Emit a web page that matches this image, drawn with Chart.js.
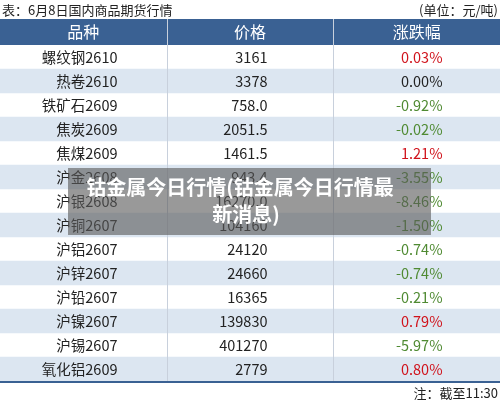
<!DOCTYPE html>
<html><head><meta charset="utf-8">
<script src="https://cdn.jsdelivr.net/npm/chart.js@4"></script>
<style>html,body{margin:0;padding:0;background:#fff}#c{display:block}</style>
</head><body>
<div style="width:500px;height:403px"><canvas id="c"></canvas></div>
<script>
const names = ['螺纹钢2610','热卷2610','铁矿石2609','焦炭2609','焦煤2609','沪金2608','沪银2608','沪铜2607','沪铝2607','沪锌2607','沪铅2607','沪镍2607','沪锡2607','氧化铝2609'];
const prices = ['3161','3378','758.0','2051.5','1461.5','943.4','16270.0','104160','24120','24660','16365','139830','401270','2779'];
const changes = [0.03, 0.00, -0.92, -0.02, 1.21, -3.55, -8.46, -1.50, -0.74, -0.74, -0.21, 0.79, -5.97, 0.80];
const headers = ['品种','价格','涨跌幅'];
const FONT = '"Noto Sans CJK SC", "Noto Sans", sans-serif';

const tablePlugin = {
  id: 'table',
  beforeDatasetsDraw(chart) {
    const ctx = chart.ctx, ya = chart.scales.y, xa = chart.scales.x, ca = chart.chartArea;
    ctx.save();
    // header
    ctx.fillStyle = '#3a6193';
    ctx.fillRect(0, 19, 500, ca.top - 19);
    ctx.restore();
  },
  afterDatasetsDraw(chart) {
    const ctx = chart.ctx, ya = chart.scales.y, xa = chart.scales.x, ca = chart.chartArea;
    ctx.save();
    // column separators
    ctx.strokeStyle = '#c8d0dc'; ctx.lineWidth = 1;
    [1, 2].forEach(c => {
      const x = Math.round(xa.getPixelForValue(c)) + 0.5;
      ctx.beginPath(); ctx.moveTo(x, 19); ctx.lineTo(x, ca.bottom); ctx.stroke();
    });
    // header text
    ctx.fillStyle = '#fff'; ctx.font = '16px ' + FONT; ctx.textAlign = 'center'; ctx.textBaseline = 'middle';
    headers.forEach((h, i) => ctx.fillText(h, xa.getPixelForValue(i + 0.5), (19 + ca.top) / 2));
    // cells
    ctx.font = '14.5px ' + FONT; ctx.textAlign = 'right';
    names.forEach((n, i) => {
      const y = ya.getPixelForValue(i);
      ctx.fillStyle = '#222';
      ctx.fillText(n, xa.getPixelForValue(0.705), y);
      ctx.fillText(prices[i], xa.getPixelForValue(1.605), y);
      const v = changes[i];
      ctx.fillStyle = v > 0 ? '#d0121b' : (v < 0 ? '#4f8a32' : '#222');
      ctx.fillText(v.toFixed(2) + '%', xa.getPixelForValue(2.655), y);
    });
    // bottom rule
    ctx.strokeStyle = '#3a6193'; ctx.lineWidth = 2;
    ctx.beginPath(); ctx.moveTo(0, ca.bottom + 1); ctx.lineTo(500, ca.bottom + 1); ctx.stroke();
    // title / notes
    ctx.fillStyle = '#222'; ctx.font = '13px ' + FONT; ctx.textBaseline = 'middle';
    ctx.textAlign = 'left'; ctx.fillText('表：6月8日国内商品期货行情', 2, 10);
    ctx.textAlign = 'right'; ctx.fillText('(单位：元/吨)', 498, 10);
    ctx.fillText('注：截至11:30', 498, 393);
    // overlay caption
    ctx.fillStyle = 'rgba(90,90,90,0.62)';
    ctx.fillRect(68, 168, 363, 67);
    ctx.fillStyle = '#fff'; ctx.font = 'bold 20px ' + FONT; ctx.textAlign = 'center';
    ctx.fillText('钴金属今日行情(钴金属今日行情最', 240, 187);
    ctx.fillText('新消息)', 246, 214);
    ctx.restore();
  }
};

new Chart(document.getElementById('c'), {
  type: 'bar',
  data: {
    labels: names,
    datasets: [{
      data: names.map((n, i) => i % 2 ? [0, 3] : null),
      backgroundColor: '#dce6f1',
      barPercentage: 1, categoryPercentage: 1
    }]
  },
  options: {
    indexAxis: 'y', responsive: true, maintainAspectRatio: false, animation: false,
    layout: { padding: { top: 45, bottom: 22, left: 0, right: 0 } },
    plugins: { legend: { display: false }, tooltip: { enabled: false } },
    scales: {
      x: { type: 'linear', min: 0, max: 3, display: false },
      y: { type: 'category', display: false, offset: true }
    }
  },
  plugins: [tablePlugin]
});
</script>
</body></html>
